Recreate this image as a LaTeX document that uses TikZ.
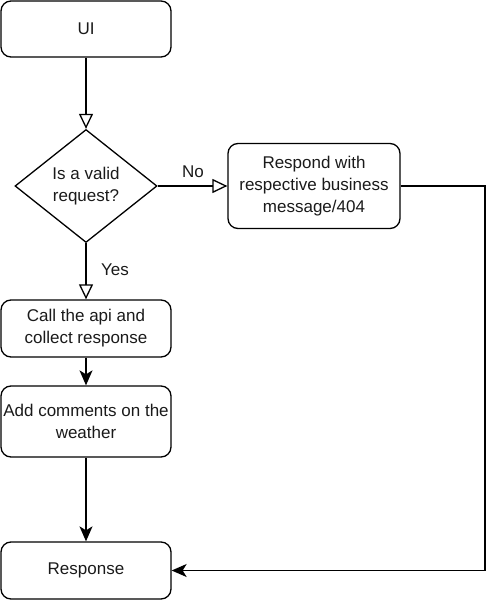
\documentclass[tikz,border=0pt]{standalone}
\usepackage{fontspec}
\setmainfont{Liberation Sans}
\usetikzlibrary{shapes.geometric,arrows.meta}
\definecolor{txt}{HTML}{1a1a1a}
\begin{document}
\begin{tikzpicture}[x=1pt,y=-1pt,
  every node/.style={font=\fontsize{17}{22}\selectfont, text=txt},
  box/.style={draw=black, line width=1.3pt, rounded corners=10pt, align=center, inner sep=0pt, minimum width=170pt},
  dec/.style={draw=black, line width=1.3pt, diamond, align=center, inner sep=0pt, minimum width=142pt, minimum height=113pt, shape aspect=1.26},
  lbl/.style={inner sep=0pt},
  openarrow/.style={draw=black, line width=1.3pt, -{Triangle[open, length=15pt, width=14pt, fill=white]}},
  solidarrow/.style={draw=black, line width=1.3pt, -{Stealth[length=15pt, width=13pt, inset=4pt]}},
  plainline/.style={draw=black, line width=1.3pt}
]
\useasboundingbox (0,0) rectangle (498,601);
\node[box, minimum height=56pt] (ui) at (86,29) {UI};
\node[dec] (valid) at (86,186) {Is a valid\\request?};
\node[box, minimum width=172pt, minimum height=85pt] (respond) at (314,186) {Respond with\\respective business\\message/404};
\node[box, minimum height=57pt] (call) at (86,328.5) {Call the api and\\collect response};
\node[box, minimum height=71pt] (add) at (86,421.5) {Add comments on the\\weather};
\node[box, minimum height=57pt] (resp) at (86,570.5) {Response};
\coordinate (c1) at (485,186);
\coordinate (c2) at (485,570.5);
\node[lbl] (no) at (193,172) {No};
\node[lbl] (yes) at (115,270) {Yes};
\draw[openarrow] (ui.south) -- (valid.north);
\draw[openarrow] (valid.east) -- (respond.west);
\draw[openarrow] (valid.south) -- (call.north);
\draw[solidarrow] (call.south) -- (add.north);
\draw[solidarrow] (add.south) -- (resp.north);
\draw[solidarrow] (respond.east) -- (c1) -- (c2) -- (resp.east);
\end{tikzpicture}
\end{document}
